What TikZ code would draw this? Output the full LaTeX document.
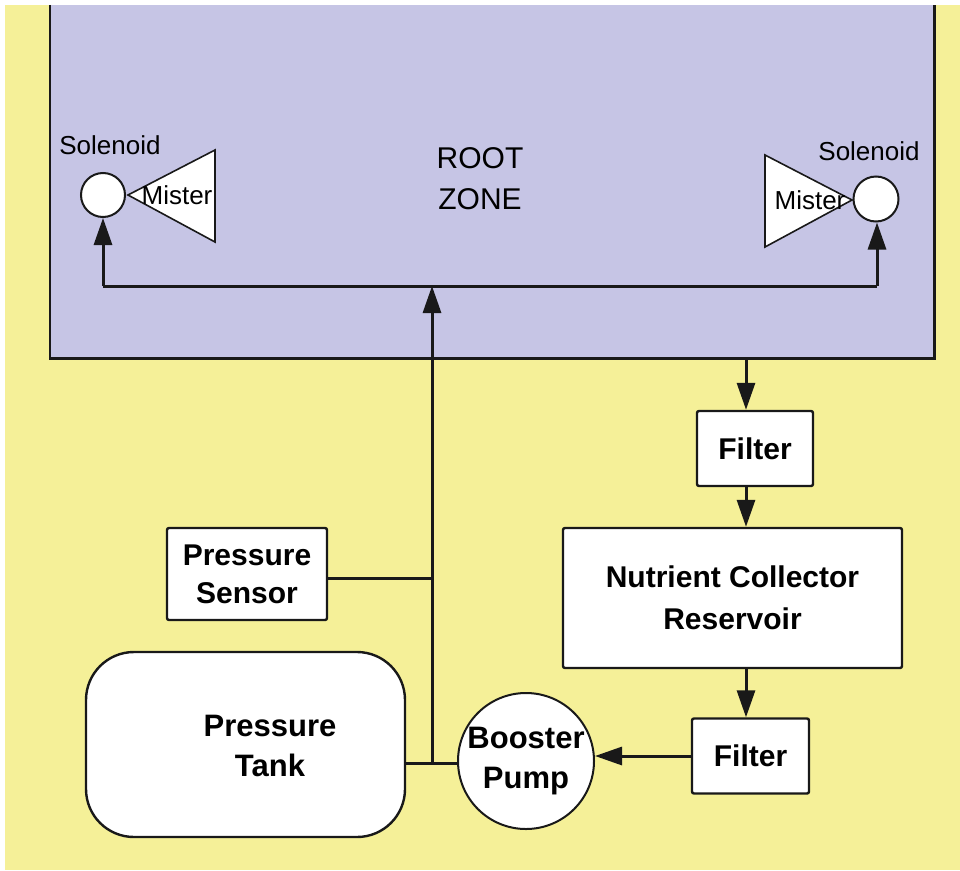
\documentclass[tikz,border=0pt]{standalone}
\usepackage{fontspec}
\setmainfont{Liberation Sans}
\usetikzlibrary{arrows.meta,shapes.geometric}
\definecolor{bgyellow}{RGB}{245,240,152}
\definecolor{rzpurple}{RGB}{198,197,229}
\definecolor{ink}{RGB}{25,25,25}
\tikzset{
  box/.style={draw=ink, line width=2.4pt, fill=white, rounded corners=2pt, inner sep=0pt, align=center,
    font=\bfseries\fontsize{30}{38}\selectfont},
  ball/.style={circle, draw=ink, line width=2pt, fill=white, inner sep=0pt},
  lbl/.style={inner sep=0pt, align=center},
  pipe/.style={draw=ink, line width=3pt},
  arr/.style={pipe, -{Triangle[length=27pt,width=18pt]}},
}
\begin{document}
\begin{tikzpicture}[x=1pt,y=-1pt]
\useasboundingbox (0,0) rectangle (960,870);
\fill[bgyellow] (0,0) rectangle (960,870);
\fill[white] (0,0) rectangle (960,5);
\fill[white] (0,0) rectangle (5,870);
% root zone
\node[fill=rzpurple, inner sep=0pt, minimum width=884pt, minimum height=353pt] (rz) at (492,181.5) {};
\draw[draw=ink, line width=2.6pt] (rz.north west) -- (rz.south west) -- (rz.south east) -- (rz.north east);
\node[lbl, font=\fontsize{30}{41}\selectfont] (rzlabel) at (480,179) {ROOT\\ZONE};
% misters
\draw[draw=ink, line width=1.6pt, fill=white] (128,195) -- (215,150) -- (215,242) -- cycle;
\draw[draw=ink, line width=1.6pt, fill=white] (852,200) -- (765,155) -- (765,247) -- cycle;
\node[lbl, font=\fontsize{26}{30}\selectfont] (mis1) at (177,195) {Mister};
\node[lbl, font=\fontsize{26}{30}\selectfont] (mis2) at (810,200) {Mister};
% solenoids
\node[ball, minimum size=44pt] (sol1) at (103,195) {};
\node[ball, minimum size=45pt] (sol2) at (876,199) {};
\node[lbl, font=\fontsize{26}{30}\selectfont] (sollab1) at (110,145) {Solenoid};
\node[lbl, font=\fontsize{26}{30}\selectfont] (sollab2) at (869,151) {Solenoid};
% boxes
\node[box, minimum width=160pt, minimum height=92pt] (ps) at (247,574) {Pressure\\Sensor};
\node[box, rounded corners=48pt, minimum width=319pt, minimum height=185pt] (tank) at (245.5,744.5) {};
\node[lbl, font=\bfseries\fontsize{31}{40}\selectfont] (tanklabel) at (270,746) {Pressure\\Tank};
\node[ball, minimum size=136pt, align=center, font=\bfseries\fontsize{31}{40}\selectfont] (pump) at (526,761) {Booster\\Pump};
\node[box, minimum width=116pt, minimum height=75pt] (f1) at (755,448.5) {Filter};
\node[box, minimum width=339pt, minimum height=140pt, font=\bfseries\fontsize{30}{42}\selectfont] (res) at (732.5,598) {Nutrient Collector\\Reservoir};
\node[box, minimum width=117pt, minimum height=75pt] (f2) at (750.5,756) {Filter};
% junctions
\coordinate (hl) at (103,286);
\coordinate (hr) at (877,286);
\coordinate (jm) at (432,286);
\coordinate (js) at (432,578);
\coordinate (jp) at (432,763);
\coordinate (a1) at (746,358);
\coordinate (a2) at (746,486);
\coordinate (a3) at (746,668);
% connectors
\draw[pipe] (hl) -- (hr);
\draw[arr] (hl) -- (sol1.south);
\draw[arr] (hr) -- (hr |- sol2.south);
\draw[arr] (jp) -- (jm);
\draw[pipe] (ps.east |- js) -- (js);
\draw[pipe] (tank.east |- jp) -- (jp -| pump.west);
\draw[arr] (f2.west) -- (f2.west -| pump.east);
\draw[arr] (a1) -- (a1 |- f1.north);
\draw[arr] (a2) -- (a2 |- res.north);
\draw[arr] (a3) -- (a3 |- f2.north);
\end{tikzpicture}
\end{document}
